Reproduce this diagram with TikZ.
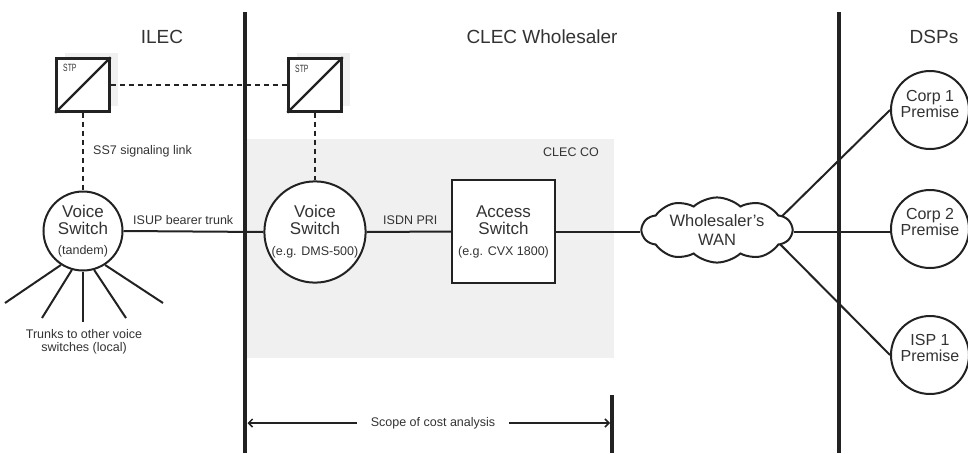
\documentclass[tikz,border=0pt]{standalone}
\usepackage{fontspec}
\setmainfont{Liberation Sans}
\usetikzlibrary{shapes.symbols,arrows.meta}
\definecolor{ink}{HTML}{222222}
\definecolor{txt}{HTML}{333333}
\definecolor{cogray}{HTML}{F0F0F0}
\begin{document}
\begin{tikzpicture}[x=1pt,y=-1pt,
  divider/.style={line width=4pt,draw=ink},
  link/.style={line width=2pt,draw=ink},
  siglink/.style={line width=2.5pt,draw=ink,dash pattern=on 5pt off 4pt},
  switchc/.style={circle,draw=ink,line width=2pt,fill=white,inner sep=0pt,
    align=center,text=txt,font=\fontsize{17}{17}\selectfont},
  accbox/.style={rectangle,draw=ink,line width=2.5pt,fill=white,inner sep=0pt,
    minimum width=103pt,minimum height=103pt,align=center,text=txt,
    font=\fontsize{17}{17}\selectfont},
  stpbox/.style={rectangle,draw=ink,line width=2.5pt,fill=white,minimum size=53pt,inner sep=0pt},
  stpshadow/.style={rectangle,fill=cogray,minimum size=53pt,inner sep=0pt},
  stptext/.style={anchor=base west,inner sep=0pt,text=txt,font=\fontsize{10.5}{10.5}\selectfont},
  region/.style={anchor=base,inner sep=0pt,text=txt,font=\fontsize{19}{19}\selectfont},
  lbl/.style={inner sep=0pt,text=txt,font=\fontsize{12.5}{13}\selectfont},
  dsp/.style={circle,draw=ink,line width=2pt,fill=white,minimum size=78pt,inner sep=0pt},
  dsptext/.style={inner sep=0pt,align=center,text=txt,font=\fontsize{16}{16}\selectfont},
  scopetip/.style={-{Straight Barb[length=4pt,width=8pt,line width=1.5pt]},line width=1.5pt,draw=ink}
]
\useasboundingbox (0,0) rectangle (968,453);

% CLEC central office area
\fill[cogray] (247,139) rectangle (614,358);
\node[lbl,anchor=base west] (co) at (543,156) {CLEC CO};

% region headings
\node[region] (ilec) at (162,43) {ILEC};
\node[region] (clec) at (542,43) {CLEC Wholesaler};
\node[region] (dsps) at (934,43) {DSPs};

% region dividers
\coordinate (d1t) at (245,12);
\coordinate (d1b) at (245,453);
\coordinate (d2t) at (839,12);
\coordinate (d2b) at (839,453);

% signal transfer points
\node[stpshadow] (stp1s) at (91,79) {};
\node[stpbox] (stp1) at (83,85) {};
\draw[link,line width=2.2pt] (stp1.south west) -- (stp1.north east);
\node[stptext] (stp1t) at (63,71) {\scalebox{0.65}[1]{STP}};
\node[stpshadow] (stp2s) at (323,79) {};
\node[stpbox] (stp2) at (315,85) {};
\draw[link,line width=2.2pt] (stp2.south west) -- (stp2.north east);
\node[stptext] (stp2t) at (295,72) {\scalebox{0.65}[1]{STP}};

% voice switches and access switch
\node[switchc,minimum size=79pt] (vs1) at (83,231)
  {Voice\\Switch\\[3pt]{\fontsize{12.5}{13}\selectfont(tandem)}};
\node[switchc,minimum size=98pt] (vs2) at (315,232)
  {Voice\\Switch\\[4pt]{\fontsize{12.5}{13}\selectfont(e.g. DMS-500)}};
\node[accbox] (acc) at (503.5,231.5)
  {Access\\Switch\\[4pt]{\fontsize{12.5}{13}\selectfont(e.g. CVX 1800)}};

% signaling links
\draw[siglink] (stp1.east) -- (stp2.west);
\draw[siglink] (stp1.south) -- (vs1.north);
\draw[siglink] (stp2.south) -- (vs2.north);
\node[lbl,anchor=base west] (ss7) at (93,154) {SS7 signaling link};

% bearer connections
\draw[link] (vs1.east) -- (vs2.west);
\node[lbl,anchor=base west] (isup) at (133,224) {ISUP bearer trunk};
\draw[link] (vs2.east) -- (acc.west);
\node[lbl,anchor=base west] (isdn) at (383,224) {ISDN PRI};

% local trunks fanning out of the tandem switch
\coordinate (t1) at (5,303);
\coordinate (t2) at (42,318);
\coordinate (t3) at (83,322);
\coordinate (t4) at (126,318);
\coordinate (t5) at (163,303);
\draw[link] (vs1.237) -- (t1);
\draw[link] (vs1.254) -- (t2);
\draw[link] (vs1.270) -- (t3);
\draw[link] (vs1.286) -- (t4);
\draw[link] (vs1.303) -- (t5);
\node[lbl,align=center,font=\fontsize{12.5}{12.5}\selectfont] (trk) at (84,342)
  {Trunks to other voice\\switches (local)};

% DSP premises
\node[dsp] (corp1) at (930,110) {};
\node[dsptext] (corp1t) at (930,104) {Corp 1\\Premise};
\node[dsp] (corp2) at (930,229) {};
\node[dsptext] (corp2t) at (930,222) {Corp 2\\Premise};
\node[dsp] (isp1) at (930,355) {};
\node[dsptext] (isp1t) at (930,348) {ISP 1\\Premise};

\coordinate (hub) at (767,231);
\draw[link] (hub) -- (corp1.west);
\draw[link] (hub) -- (isp1.west);

% wholesaler network
\node[cloud,cloud puffs=10,cloud puff arc=85,aspect=2.6,draw=ink,line width=2pt,
  fill=white,minimum width=150pt,minimum height=58pt,inner sep=0pt,align=center,
  text=txt,font=\fontsize{16.5}{19}\selectfont] (wan) at (717,230) {Wholesaler's\\WAN};
\draw[link] (acc.east) -- (acc.east -| wan.west);
\draw[link] (wan.east |- acc.east) -- (corp2.west |- acc.east);

\draw[divider] (d1t) -- (d1b);
\draw[divider] (d2t) -- (d2b);

% scope of the cost analysis
\coordinate (sl) at (247.5,423);
\coordinate (sr) at (610,423);
\coordinate (sbt) at (612,395);
\coordinate (sbb) at (612,453);
\draw[divider] (sbt) -- (sbb);
\node[lbl,inner xsep=14pt] (scope) at (433,423) {Scope of cost analysis};
\draw[scopetip] (scope.west) -- (sl);
\draw[scopetip] (scope.east) -- (sr);
\end{tikzpicture}
\end{document}
